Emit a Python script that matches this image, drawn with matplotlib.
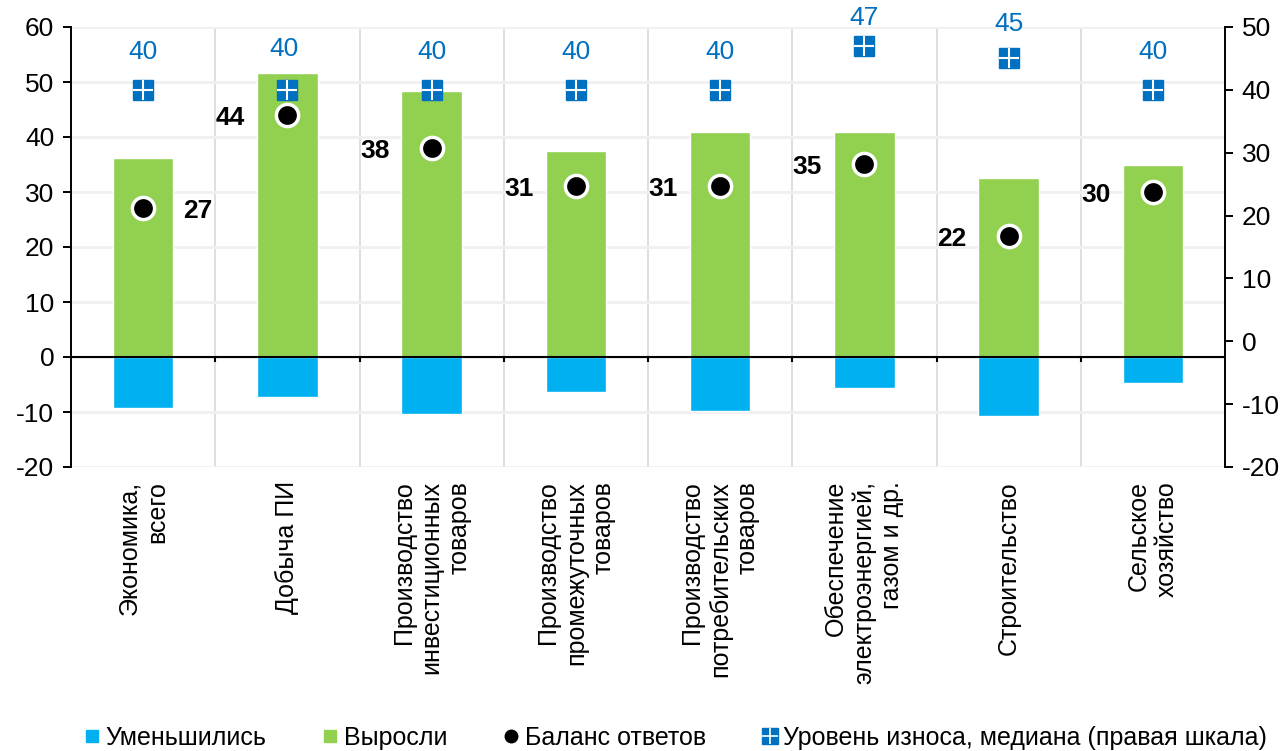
import matplotlib
matplotlib.use("Agg")
import matplotlib.pyplot as plt
from matplotlib.lines import Line2D
import numpy as np

plt.rcParams['font.family'] = ['Liberation Sans', 'DejaVu Sans']
plt.rcParams['axes.unicode_minus'] = False

categories = ["Экономика,\nвсего", "Добыча ПИ", "Производство\nинвестиционных\nтоваров",
              "Производство\nпромежуточных\nтоваров", "Производство\nпотребительских\nтоваров",
              "Обеспечение\nэлектроэнергией,\nгазом и др.", "Строительство", "Сельское\nхозяйство"]
grew = [36.2, 51.6, 48.4, 37.5, 40.9, 41.0, 32.5, 34.9]
decreased = [-9.3, -7.3, -10.4, -6.4, -9.8, -5.6, -10.7, -4.7]
balance = [27, 44, 38, 31, 31, 35, 22, 30]
wear = [40, 40, 40, 40, 40, 47, 45, 40]

# label placement styles
label_side = ['right', 'left', 'left', 'left', 'left', 'left', 'left', 'left']
wear_label_dy = [38, 41, 38, 38, 38, 28, 34, 38]   # pixels above marker

GREEN = '#92D050'
LBLUE = '#00B0F0'
DBLUE = '#0070C0'
FS = 18
PT = 0.72  # points per pixel at dpi 100

fig = plt.figure(figsize=(12.88, 7.51), dpi=100)
ax = fig.add_axes([71/1288, 1-467/751, (1225-71)/1288, 440/751])
x = np.arange(len(categories))
bounds = np.arange(0.5, len(categories) - 0.5, 1)

ax.bar(x, grew, width=0.42, color=GREEN, edgecolor='white', linewidth=1.0, zorder=3)
ax.bar(x, decreased, width=0.42, color=LBLUE, edgecolor='white', linewidth=1.0, zorder=3)
ax.axhline(0, color='black', linewidth=1.5, zorder=4)
# small tick marks on the zero line at category boundaries
ax.vlines(bounds, 0, -0.9, color='black', linewidth=1.5, zorder=4)

ax.set_xlim(-0.5, len(categories) - 0.5)
ax.set_ylim(-20, 60)
ax.set_yticks(np.arange(-20, 61, 10))
ax.set_xticks(x)
ax.set_xticklabels(categories, rotation=90, fontsize=FS, va='top', ha='center')
for t in ax.get_xticklabels():
    t.set_multialignment('right')
ax.tick_params(axis='x', which='major', length=0, pad=10)
ax.set_xticks(bounds, minor=True)
ax.tick_params(axis='x', which='minor', length=0)
ax.grid(axis='y', which='major', color='#F0F0F0', linewidth=2, zorder=0)
ax.grid(axis='x', which='minor', color='#D9D9D9', linewidth=1.2, zorder=0)
ax.set_axisbelow(True)
for s in ['top', 'bottom', 'right']:
    ax.spines[s].set_visible(False)
ax.spines['left'].set_linewidth(1.4)
ax.tick_params(axis='y', labelsize=19, length=6, width=1.4, direction='out', pad=6)

# right axis
ax2 = ax.twinx()
ax2.set_ylim(-20, 50)
ax2.set_yticks(np.arange(-20, 51, 10))
for s in ['top', 'bottom', 'left']:
    ax2.spines[s].set_visible(False)
ax2.spines['right'].set_linewidth(1.4)
ax2.tick_params(axis='y', labelsize=19, length=6, width=1.4, direction='out', pad=6)
ax2.plot(x, wear, linestyle='none', marker='s', markersize=14, color=DBLUE, zorder=4)
ax2.plot(x, wear, linestyle='none', marker='+', markersize=14, markeredgecolor='white',
         markeredgewidth=1.5, zorder=5)
for i, (xi, w, dy) in enumerate(zip(x, wear, wear_label_dy)):
    if i == 1:
        ax2.annotate(str(w), (xi, w), xytext=(-3 * PT, dy * PT), textcoords='offset points',
                     ha='center', va='center', fontsize=19, color=DBLUE,
                     arrowprops=dict(arrowstyle='-', color='#A6A6A6', lw=1, shrinkA=11, shrinkB=3))
    else:
        ax2.annotate(str(w), (xi, w), xytext=(0, dy * PT), textcoords='offset points',
                     ha='center', va='center', fontsize=19, color=DBLUE)

# balance dots (left scale), drawn on top of the squares
ax2.plot(x, balance, linestyle='none', marker='o', markersize=16, markerfacecolor='black',
         markeredgecolor='white', markeredgewidth=2.5, zorder=6, transform=ax.transData)
for xi, b, side in zip(x, balance, label_side):
    dx = 55 if side == 'right' else -57
    ax2.annotate(str(b), (xi, b), xycoords=ax.transData, xytext=(dx * PT, -3 * PT),
                 textcoords='offset points', ha='center', va='center', fontsize=19,
                 fontweight='bold', color='black', zorder=7)

# legend
h1 = Line2D([], [], linestyle='none', marker='s', markersize=8, color=LBLUE)
h2 = Line2D([], [], linestyle='none', marker='s', markersize=8, color=GREEN)
h3 = Line2D([], [], linestyle='none', marker='o', markersize=9, color='black')
h4a = Line2D([], [], linestyle='none', marker='s', markersize=12, color=DBLUE)
h4b = Line2D([], [], linestyle='none', marker='+', markersize=12, markeredgecolor='white', markeredgewidth=1.2)
fig.legend([h1, h2, h3, (h4a, h4b)],
           ['Уменьшились', 'Выросли', 'Баланс ответов', 'Уровень износа, медиана (правая шкала)'],
           loc='center', bbox_to_anchor=(675/1288, 1-738/751), ncol=4, frameon=False,
           fontsize=FS, handlelength=0.7, handletextpad=0.2, columnspacing=2.2, borderpad=0)

fig.savefig('out.png', dpi=100)
